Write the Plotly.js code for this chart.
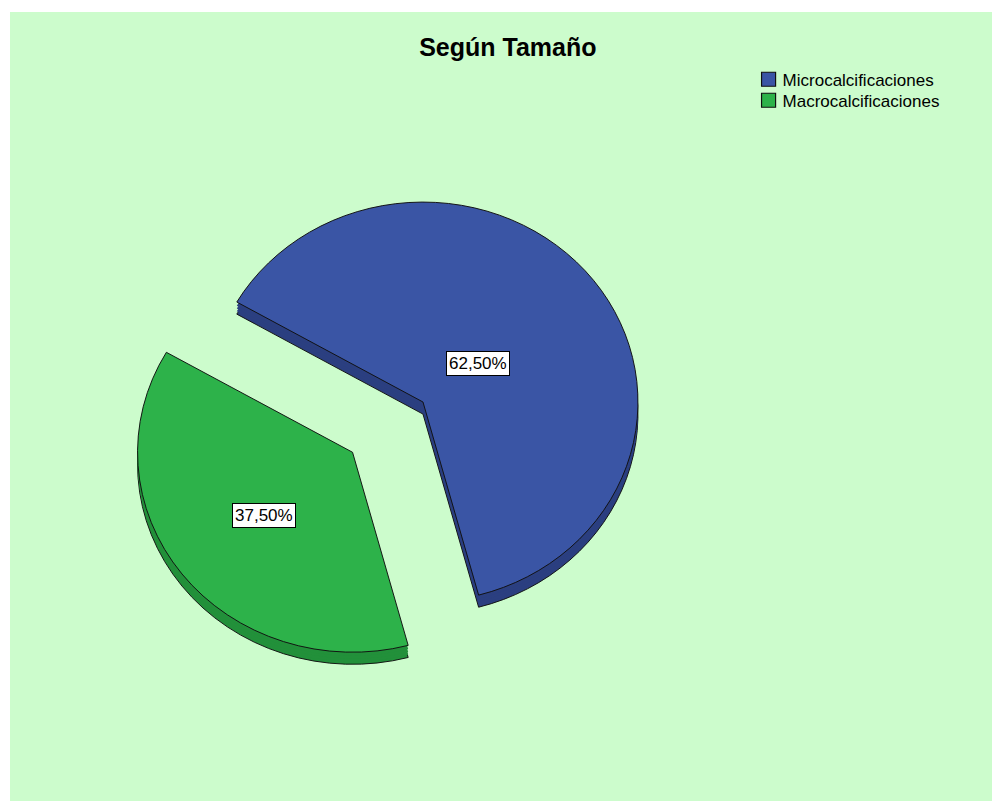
<!DOCTYPE html>
<html><head><meta charset="utf-8">
<script src="https://cdn.plot.ly/plotly-3.0.1.min.js"></script>
<style>
html,body{margin:0;padding:0;background:#ffffff;width:992px;height:801px;overflow:hidden}
#chart{position:absolute;left:10px;top:12px;width:982px;height:789px}
</style>
</head><body><div id="chart"></div>
<script>
// ---- data ----
const categories = ['Microcalcificaciones', 'Macrocalcificaciones'];
const percentages = [62.5, 37.5];
const chartTitle = 'Según Tamaño';

// ---- style / layout constants ----
const W = 982, H = 789;
const faceColors = ['#3a55a5', '#2db24a'];
const rimColors = ['#2b3f80', '#22903a'];
const pullAmounts = [0, 0.413];
const rotationDeg = -60;
const domX = [0.1112, 0.7299];
const domY = [0.1207, 0.8907];
const tiltScale = 0.93;          // vertical squash for the 3-D look
const rimDepths = [13, 10, 7, 4];
const labelRadiusFrac = [0.32, 0.52];
const legendRowGap = 21;
const FONT = 'Liberation Sans, Arial, sans-serif';

const traces = [];
rimDepths.forEach((d, k) => {
  const dy = d / H;
  traces.push({
    type: 'pie', labels: categories, values: percentages,
    sort: false, direction: 'clockwise', rotation: rotationDeg,
    pull: pullAmounts, textinfo: 'none', hoverinfo: 'skip', showlegend: false,
    domain: {x: domX, y: [domY[0] - dy, domY[1] - dy]},
    marker: {colors: rimColors, line: {color: k === 0 ? '#111' : 'rgba(0,0,0,0)', width: k === 0 ? 1 : 0}}
  });
});
traces.push({
  type: 'pie', labels: categories, values: percentages,
  sort: false, direction: 'clockwise', rotation: rotationDeg,
  pull: pullAmounts, textinfo: 'none', hoverinfo: 'label+percent',
  domain: {x: domX, y: domY},
  marker: {colors: faceColors, line: {color: '#111', width: 1}}
});

// label annotations, placed from the slice angles derived from the data
const total = percentages.reduce((a, b) => a + b, 0);
const cx = W * (domX[0] + domX[1]) / 2;
const cy = H * (1 - (domY[0] + domY[1]) / 2);
const maxPull = Math.max(...pullAmounts);
const r = Math.min(W * (domX[1] - domX[0]), H * (domY[1] - domY[0])) / 2 / (1 + maxPull);
let cum = 0;
const annotations = percentages.map((v, i) => {
  const frac = v / total;
  const mid = (rotationDeg + (cum + frac / 2) * 360) * Math.PI / 180;
  cum += frac;
  const ux = Math.sin(mid), uy = -Math.cos(mid);
  const dist = (pullAmounts[i] + labelRadiusFrac[i]) * r;
  const px = cx + ux * dist, py = cy + uy * dist * tiltScale;
  return {
    text: v.toFixed(2).replace('.', ',') + '%',
    x: px / W, y: 1 - py / H, xref: 'paper', yref: 'paper',
    xanchor: 'center', yanchor: 'middle', showarrow: false,
    bgcolor: '#ffffff', bordercolor: '#000000', borderwidth: 1, borderpad: 2,
    font: {family: FONT, size: 17, color: '#000'}
  };
});

const layout = {
  width: W, height: H,
  paper_bgcolor: '#ccfccc',
  margin: {l: 0, r: 0, t: 0, b: 0},
  font: {family: FONT, color: '#000'},
  title: {text: '<b>' + chartTitle + '</b>', x: 0.507, xanchor: 'center', y: 0.955, yanchor: 'middle',
          font: {family: FONT, size: 25, color: '#000'}},
  showlegend: true,
  legend: {x: 0.746, xanchor: 'left', y: 0.937, yanchor: 'top', bgcolor: 'rgba(0,0,0,0)',
           font: {family: FONT, size: 17, color: '#000'}, traceorder: 'normal'},
  annotations: annotations
};

Plotly.newPlot('chart', traces, layout, {displayModeBar: false, staticPlot: true}).then(gd => {
  // slight vertical squash of the pie for the tilted look
  const pl = gd.querySelector('.pielayer');
  if (pl) pl.setAttribute('transform', `translate(0,${cy * (1 - tiltScale)}) scale(1,${tiltScale})`);
  // tighter legend rows and larger square swatches
  const items = gd.querySelectorAll('.legend .traces');
  let y0 = null;
  items.forEach((el, i) => {
    const m = /translate\(\s*([-\d.]+)[ ,]+([-\d.]+)\s*\)/.exec(el.getAttribute('transform') || '');
    if (!m) return;
    if (y0 === null) y0 = parseFloat(m[2]);
    el.setAttribute('transform', `translate(${m[1]},${y0 + i * legendRowGap})`);
  });
  gd.querySelectorAll('.legend path.legendpie').forEach(p => {
    p.setAttribute('transform', 'translate(26,0) scale(1.17)');
  });
});
</script>
</body></html>
